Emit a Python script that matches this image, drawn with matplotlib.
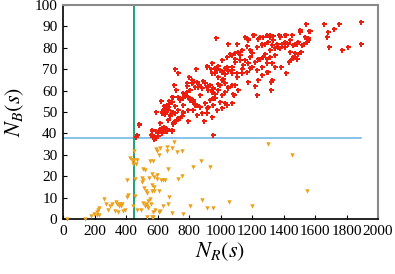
import matplotlib
matplotlib.use("Agg")
import matplotlib.pyplot as plt

plt.rcParams['font.family'] = ['Liberation Serif', 'DejaVu Serif']
plt.rcParams['mathtext.fontset'] = 'stix'

# red points (N_R, N_B)
red_x = [465, 483, 580, 575, 590, 600, 615, 630, 650, 660, 690, 640, 700, 720, 740,
         591, 630, 680, 660, 700, 710, 640, 620, 670, 690, 650, 730, 760,
         785, 775, 764, 796, 807, 828, 849, 870, 902, 934, 965, 997, 1029, 701, 690, 659,
         669, 690, 711, 732, 764, 796, 828, 849, 880, 923, 955, 912, 944, 976, 1008, 1039,
         1071, 1088, 817, 838, 849, 864, 880, 902, 912, 923, 934, 944, 955, 965, 987, 997,
         1008, 1029, 1050, 1071, 1082, 912, 938, 949, 965, 987, 1008, 1029, 1050, 1071,
         711, 728, 802, 845, 591, 626, 637, 483, 468, 563, 563, 605, 626, 643, 659, 690,
         701, 711, 732, 754, 588, 955, 792, 898, 616, 664, 679,
         1892, 1890, 1755, 1723, 1655, 1685, 1674, 1689, 1772, 1808, 1541, 1569, 1558, 1548,
         1532, 1520, 1505, 1494, 1484, 1511, 1473, 1463, 1484, 1448, 1435, 1418, 1384, 1321,
         1319, 1230, 1219, 972, 1046, 1103, 1156, 1177, 1213, 1251, 1272, 1293, 1314, 1335,
         1371, 1410, 1452, 1092, 1113, 1134, 1166, 1188, 1198, 1230, 1261, 1283, 1304, 1325,
         1346, 1367, 1388, 1410, 1431, 1463, 1008, 1040, 1071, 1092, 1124, 1145, 1177, 1219,
         1240, 1272, 1293, 1314, 1325, 1346, 1293, 1261, 1230, 1188, 1166, 1134, 1103, 1071,
         1050, 1029, 997, 965, 987, 1008, 1029, 1050, 1092, 1113, 1177, 1240, 1304,
         700, 732, 743, 705, 718, 785, 806, 817, 838, 764, 796, 827, 669, 652, 637, 680,
         559, 565, 582, 603, 620, 637, 658, 692,
         1156, 1177, 1209, 1240, 1261, 1293, 1314, 1335, 1356, 1378, 1416, 1441, 1473, 1505,
         1537, 1558, 1564, 1060, 1092, 1124, 1156, 1187, 1219, 1251, 1283, 1314, 1346, 1378,
         1410, 1441, 1473, 1494, 912, 944, 976, 1008, 1039, 1071, 1103, 1134, 1166, 1198,
         1230, 1261, 1293, 1325, 785, 827, 859, 891, 923, 955, 987, 1018, 1050, 955, 870,
         806, 764, 838, 912]
red_y = [38.5, 44, 37.5, 39, 41, 39, 42, 40, 41, 41, 41, 43, 45, 46, 47,
         50, 50, 48, 52, 50, 53, 53, 55, 55, 57, 49, 51, 50,
         59.5, 58, 56.4, 57, 55.6, 54.8, 53.2, 52.5, 54, 55.6, 56.4, 54.8, 54, 57, 54.8, 53.2,
         51, 50, 49.3, 51, 49.3, 51, 51, 48.6, 49.3, 52.5, 53.2, 49.3, 47.8, 51, 51.7, 53.2,
         54, 58, 63.4, 61.8, 64.2, 62.6, 61, 63.4, 61.8, 60.2, 62.6, 59.4, 61, 58.6, 60.2, 62.6,
         57.9, 59.4, 61, 62.6, 58.6, 71.5, 70, 68.4, 70.4, 71.5, 69.2, 67.6, 69.2, 70.8,
         70, 68, 66.5, 70, 50, 49.3, 51, 44.2, 39.2, 41.7, 39.3, 40.6, 42.3, 41.6, 42, 41.6,
         44.2, 45.8, 47.3, 48, 38, 39.2, 45.8, 45.8, 44.7, 46.3, 48.6,
         92.1, 82, 91, 89, 91, 87.2, 85.1, 80.2, 78.9, 80.2, 91, 88, 84.4, 82.8,
         82, 81.3, 88.3, 82.8, 82, 78.1, 77.4, 75.8, 75, 74.3, 73.5, 68.3, 71.1, 64.1,
         60.2, 57.9, 62, 84.4, 82, 82, 85.1, 84, 86.1, 85.1, 85.1, 85.9, 86.2, 85.4,
         86.2, 86.2, 85.9, 77.4, 78.1, 78.9, 80.8, 79.2, 77.4, 80.2, 81.3, 82, 82.8, 81.3,
         79.7, 80.5, 82, 82.8, 82, 81.3, 74.3, 75.8, 76.6, 73.5, 74.3, 71.9, 72.7, 73.5,
         75, 75.8, 75, 75.8, 72.7, 71.1, 73, 71.1, 69.6, 70.4, 68.8, 68, 66.5, 68,
         69.6, 70.4, 69.6, 68, 66.5, 64.9, 63.4, 61.8, 62.6, 60.2, 64.1, 64.9, 68.8,
         57, 57, 55.6, 62.6, 60.2, 63.4, 60.2, 65, 61.8, 58.7, 57.1, 55.6, 52.4, 50.9, 49.4, 54.8,
         39.2, 41.1, 38.4, 40, 41.6, 41.1, 41.1, 41.1,
         85.1, 83.6, 85.9, 84.3, 82, 85.9, 85.1, 83.6, 82, 85.1, 85.9, 83.6, 82, 87.5,
         85.1, 83.6, 88, 77.3, 75, 76.6, 74.2, 75.8, 73.5, 75, 77.3, 78.9, 76.6, 79.7,
         80.5, 78.1, 75.8, 77.3, 71.1, 72.7, 70.3, 68.8, 71.1, 69.5, 68, 70.3, 68.8, 71.1,
         69.5, 67.2, 68.8, 65, 62.2, 63.8, 61.5, 64.6, 62.2, 60.7, 63, 65.3, 61.5, 56.5, 58.1,
         56.5, 53.4, 53.4, 51.9]

# orange points (N_R, N_B)
orange_x = [23, 140, 176, 199, 218, 224, 231, 218, 231, 260, 271, 298, 309, 288, 337,
            345, 354, 362, 375, 370, 330, 351, 379, 394, 404, 415, 406, 426, 438, 451,
            468, 442, 463, 451, 459, 459, 447, 468, 495, 521, 510, 500, 510, 500, 516,
            527, 535, 510, 527, 535, 557, 542, 521, 535, 563, 574, 552, 569, 548, 565,
            578, 595, 599, 563, 580, 563, 578, 607, 552, 542, 590, 599, 616, 612, 622,
            637, 648, 665, 660, 694, 662, 705, 726, 758, 675, 665, 637, 690, 607, 584,
            616, 569, 728, 756,
            1304, 1456, 876, 826, 934, 1549, 880, 1056, 806, 917, 952, 1199, 761]
orange_y = [0, 0, 1.4, 2.2, 3.1, 4, 5, 2, 2, 9.2, 7, 6, 6.8, 4, 7.9,
            7, 6, 7, 7, 6, 3.8, 3.4, 3.8, 4, 10.4, 11.2, 18, 28.6, 27.7, 27.8,
            27.8, 25.8, 25.8, 32, 18.9, 10.9, 6, 4, 4, 23, 23.2, 19, 18.2, 17.4, 14.3,
            13, 12, 7.3, 7.2, 6.2, 7.2, 5.3, 6.2, 0.9, 0.9, 0.9, 27, 27, 19, 20.8,
            19.7, 20.5, 18.7, 15.9, 14.8, 13, 13, 13, 9.2, 8.4, 32.5, 31.8, 33, 29.9, 18.2,
            18.2, 18.2, 23.2, 33.8, 33, 32, 36.1, 31.1, 32, 10.1, 6.8, 6, 2.9, 3.1, 4,
            3.8, 3.4, 18.9, 20,
            35, 30, 27, 24.5, 24.5, 13, 9, 8, 6, 5, 5, 6, 2.5]

x_cut = 450      # green vertical threshold
y_cut = 38       # blue horizontal threshold
y_line_end = 1890

x_ticks = list(range(0, 2001, 200))
y_ticks = list(range(0, 101, 10))

fig = plt.figure(figsize=(3.95, 2.74), dpi=100)
ax = fig.add_axes([63 / 395, 1 - 219 / 274, 315 / 395, 214 / 274])

ax.plot([0, y_line_end], [y_cut, y_cut], color='#74b8e6', linewidth=1.2, zorder=1)
ax.plot([x_cut, x_cut], [0, 100], color='#0a9a6e', linewidth=1.3, zorder=1)

ax.plot(orange_x, orange_y, linestyle='none', marker='v', markersize=3.2,
        color='#eca11c', markeredgewidth=0, zorder=3, clip_on=False)
ax.plot(red_x, red_y, linestyle='none', marker='P', markersize=3.6,
        color='#ea1f10', markeredgewidth=0, zorder=3)

ax.set_xlim(0, 2000)
ax.set_ylim(0, 100)
ax.set_xticks(x_ticks)
ax.set_yticks(y_ticks)
ax.tick_params(direction='in', length=3, width=0.8, labelsize=11, pad=4)

for side in ['left', 'bottom']:
    ax.spines[side].set_color('black')
    ax.spines[side].set_linewidth(1.2)
for side in ['top', 'right']:
    ax.spines[side].set_color('#8a8a8a')
    ax.spines[side].set_linewidth(1.5)

ax.set_xlabel(r'$N_R(s)$', fontsize=16, labelpad=2)
ax.set_ylabel(r'$N_B(s)$', fontsize=16, labelpad=6)

fig.savefig('out.png', dpi=100)
